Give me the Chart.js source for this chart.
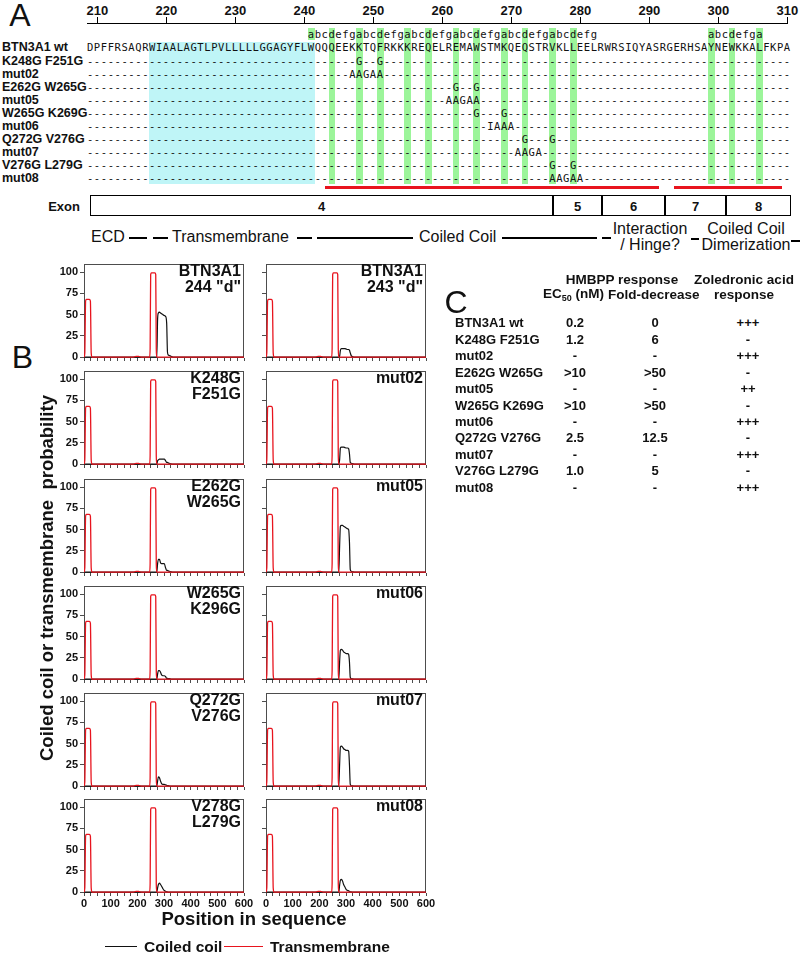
<!DOCTYPE html>
<html>
<head>
<meta charset="utf-8">
<script src="https://cdn.jsdelivr.net/npm/chart.js@4.4.1/dist/chart.umd.min.js"></script>
<style>
  body { margin: 0; background: #fff; }
  #page { position: relative; width: 800px; height: 956px; overflow: hidden; background: #fff; }
  .abs { position: absolute; white-space: pre; line-height: 1; color: #111; }
  canvas { position: absolute; }
</style>
</head>
<body>
<div id="page"></div>
<script>
// ---- Panel A: alignment ----
const residueTicks = [210, 220, 230, 240, 250, 260, 270, 280, 290, 300, 310];
const seqStart = 209;
const wtSequence = "DPFFRSAQRWIAALAGTLPVLLLLLGGAGYFLWQQQEEKKTQFRKKKREQELREMAWSTMKQEQSTRVKLLEELRWRSIQYASRGERHSAYNEWKKALFKPA";
const mutantNames = ["K248G F251G", "mut02", "E262G W265G", "mut05", "W265G K269G", "mut06", "Q272G V276G", "mut07", "V276G L279G", "mut08"];
const mutantEditStart = [248, 247, 262, 261, 265, 267, 272, 271, 276, 276];
const mutantEdits = ["G--G", "AAGAA", "G--G", "AAGAA", "G---G", "IAAA", "G---G", "AAGA", "G--G", "AAGAA"];
const heptadStart = [241, 299];
const heptadText = ["abcdefgabcdefgabcdefgabcdefgabcdefgabcdefg", "abcdefga"];
const heptadCore = [244, 248, 251, 255, 258, 262, 265, 269, 272, 276, 279, 299, 302, 306];
const tmResidues = [218, 241];
const exonNames = ["4", "5", "6", "7", "8"];

// ---- Panel B: coiled coil / transmembrane profiles ----
const xTickLabels = [0, 100, 200, 300, 400, 500, 600];
const yTickValues = [0, 25, 50, 75, 100];
const positions = [0, 3, 6, 9, 20, 24, 27, 30, 185, 195, 205, 215, 246, 248, 250, 253, 266, 269, 271,
  273, 276, 279, 283, 287, 291, 296, 301, 306, 310, 313, 316, 320, 326, 334, 345, 600];
const transmembrane = [0, 5, 66, 68, 68, 66, 5, 0, 0, 1, 1, 0, 0, 10, 97, 99, 99, 97, 10,
  0, 0, 0, 0, 0, 0, 0, 0, 0, 0, 0, 0, 0, 0, 0, 0, 0];
const coilWt244 = [0,0,0,0,0,0,0,0,0,0,0,0,0,0,0,0,0,0,0, 0, 45, 52, 53, 52, 51, 50, 49, 48, 40, 6, 2.5, 2, 1, 0, 0, 0];
const coilWt243 = [0,0,0,0,0,0,0,0,0,0,0,0,0,0,0,0,0,0,0, 0, 1, 8, 10, 10, 10, 10, 9.5, 9, 9, 8, 5, 1.5, 0.5, 0, 0, 0];
const coilK248G = [0,0,0,0,0,0,0,0,0,0,0,0,0,0,0,0,0,0,0, 0, 4, 5, 6, 6, 6, 6, 6, 4, 2, 2, 1.5, 1, 0.3, 0, 0, 0];
const coilMut02 = [0,0,0,0,0,0,0,0,0,0,0,0,0,0,0,0,0,0,0, 0, 5, 19, 20, 20, 20, 19.5, 19, 19, 18, 12, 2, 1, 0.5, 0, 0, 0];
const coilE262G = [0,0,0,0,0,0,0,0,0,0,0,0,0,0,0,0,0,0,0, 0, 10, 15, 15, 11, 10, 10, 10, 5, 2, 2, 1.5, 1, 0.5, 0, 0, 0];
const coilMut05 = [0,0,0,0,0,0,0,0,0,0,0,0,0,0,0,0,0,0,0, 0, 30, 54, 55, 55, 54, 53, 52, 51, 50, 35, 3, 1, 0.5, 0, 0, 0];
const coilW265G = [0,0,0,0,0,0,0,0,0,0,0,0,0,0,0,0,0,0,0, 0, 6, 10, 10, 8, 5, 4, 4, 3, 1, 1, 0.5, 0.5, 0.2, 0, 0, 0];
const coilMut06 = [0,0,0,0,0,0,0,0,0,0,0,0,0,0,0,0,0,0,0, 0, 20, 34, 35, 34, 32, 31, 30, 30, 29, 20, 2, 0.5, 0.3, 0, 0, 0];
const coilQ272G = [0,0,0,0,0,0,0,0,0,0,0,0,0,0,0,0,0,0,0, 0, 6, 11, 10, 6, 3, 2, 2, 1.5, 1, 0.5, 0.5, 0.3, 0, 0, 0, 0];
const coilMut07 = [0,0,0,0,0,0,0,0,0,0,0,0,0,0,0,0,0,0,0, 0, 25, 46, 47, 46, 44, 43, 42, 42, 41, 25, 2, 0.5, 0.3, 0, 0, 0];
const coilV278G = [0,0,0,0,0,0,0,0,0,0,0,0,0,0,0,0,0,0,0, 0, 5, 9, 10.5, 9, 7, 4, 2, 1, 0.5, 0.3, 0, 0, 0, 0, 0, 0];
const coilMut08 = [0,0,0,0,0,0,0,0,0,0,0,0,0,0,0,0,0,0,0, 0, 8, 14, 15, 13, 9, 6, 3, 2, 1.5, 1, 0.5, 0.3, 0, 0, 0, 0];
const panelTitles = [["BTN3A1", '244 "d"'], ["BTN3A1", '243 "d"'], ["K248G", "F251G"], ["mut02"],
  ["E262G", "W265G"], ["mut05"], ["W265G", "K296G"], ["mut06"], ["Q272G", "V276G"], ["mut07"],
  ["V278G", "L279G"], ["mut08"]];
const panelCoil = [coilWt244, coilWt243, coilK248G, coilMut02, coilE262G, coilMut05,
  coilW265G, coilMut06, coilQ272G, coilMut07, coilV278G, coilMut08];

// ---- Panel C: table ----
const tableNames = ["BTN3A1 wt", "K248G F251G", "mut02", "E262G W265G", "mut05", "W265G K269G", "mut06", "Q272G V276G", "mut07", "V276G L279G", "mut08"];
const ec50 = ["0.2", "1.2", "-", ">10", "-", ">10", "-", "2.5", "-", "1.0", "-"];
const foldDecrease = ["0", "6", "-", ">50", "-", ">50", "-", "12.5", "-", "5", "-"];
const zoledronic = ["+++", "-", "+++", "-", "++", "-", "+++", "-", "+++", "-", "+++"];

const SANS = '"Liberation Sans", Arial, Helvetica, sans-serif';
const MONO = '"DejaVu Sans Mono", monospace';
const GREEN = "#9cf59a";
const CYAN = "#bff5f7";
const RED = "#e8141e";
const page = document.getElementById("page");

function put(txt, x, y, font, align, color) {
  const d = document.createElement("div");
  d.className = "abs";
  d.textContent = txt;
  d.style.font = font;
  d.style.left = x + "px";
  d.style.top = y + "px";
  const tx = align === "center" ? "-50%" : align === "right" ? "-100%" : "0";
  d.style.transform = "translate(" + tx + ",-50%)";
  if (color) d.style.color = color;
  page.appendChild(d);
  return d;
}
function rect(x, y, w, h, bg) {
  const d = document.createElement("div");
  d.style.cssText = "position:absolute;left:" + x + "px;top:" + y + "px;width:" + w + "px;height:" + h + "px;background:" + bg;
  page.appendChild(d);
  return d;
}
// residue -> x pixel
const rx = r => 97.3 + (r - 210) * 6.9;
const MONO_SIZE = 10.5;
const monoSpacing = 6.9 - 0.60205 * MONO_SIZE;
function seqText(txt, startRes, y) {
  const d = put(txt, rx(startRes) - 3.45, y, MONO_SIZE + "px " + MONO, "left");
  d.style.letterSpacing = monoSpacing + "px";
  return d;
}

// ---------- Panel A ----------
put("A", 20, 15, "32px " + SANS, "center");
rect(87, 22.5, 701, 1.5, "#000");
residueTicks.forEach(r => {
  rect(rx(r) - 0.75, 16.5, 1.5, 7, "#000");
  put(String(r), rx(r), 10, "bold 13px " + SANS, "center");
});
rect(rx(tmResidues[0]) - 3.45, 41.5, rx(tmResidues[1]) - rx(tmResidues[0]) + 6.9, 142.5, CYAN);
heptadCore.forEach(r => rect(rx(r) - 3.4, 28, 6.8, 156, GREEN));
rect(rx(heptadStart[0]) - 3.4, 28, 6.8, 11.5, GREEN);
heptadStart.forEach((s, i) => seqText(heptadText[i], s, 33.5));

const rowY0 = 47.3;
put("BTN3A1 wt", 2, rowY0, "bold 12.5px " + SANS, "left");
seqText(wtSequence, seqStart, rowY0);
mutantNames.forEach((name, j) => {
  const y = 61 + 13.05 * j;
  put(name, 2, y, "bold 12.5px " + SANS, "left");
  let s = "";
  for (let k = 0; k < wtSequence.length; k++) {
    const r = seqStart + k;
    const e = r - mutantEditStart[j];
    const c = e >= 0 && e < mutantEdits[j].length ? mutantEdits[j][e] : "-";
    s += c;
  }
  seqText(s, seqStart, y);
});

// coiled coil underline
rect(325, 186, 334, 3, RED);
rect(674, 186, 108, 3, RED);

// exon box
put("Exon", 80, 205.5, "bold 13px " + SANS, "right");
const exonBox = rect(90, 195, 701, 21, "#fff");
exonBox.style.boxSizing = "border-box";
exonBox.style.border = "1.5px solid #000";
const exonEdges = [90, 553, 602, 665, 726, 791];
exonEdges.slice(1, 5).forEach(x => rect(x - 0.75, 195, 1.5, 21, "#000"));
exonNames.forEach((n, i) => put(n, (exonEdges[i] + exonEdges[i + 1]) / 2, 205.5, "bold 13px " + SANS, "center"));

// domain annotations
const DOM = "16px " + SANS;
put("ECD", 91, 237, DOM, "left");
rect(129, 236.5, 18, 2.2, "#000");
rect(153, 236.5, 15, 2.2, "#000");
put("Transmembrane", 172, 237, DOM, "left");
rect(297, 236.5, 15, 2.2, "#000");
rect(317, 236.5, 96, 2.2, "#000");
put("Coiled Coil", 419, 237, DOM, "left");
rect(502, 236.5, 95, 2.2, "#000");
rect(602, 237, 9, 2.2, "#000");
put("Interaction", 650, 228.5, DOM, "center");
put("/ Hinge?", 650, 244.5, DOM, "center");
rect(691, 237.5, 8, 2.2, "#000");
put("Coiled Coil", 746, 228.5, DOM, "center");
put("Dimerization", 746, 244.5, DOM, "center");
rect(791, 239.5, 9, 2.2, "#000");

// ---------- Panel B ----------
put("B", 22.5, 357, "32px " + SANS, "center");
const rowTops = [259, 366, 474, 581, 688, 794];
const colLefts = [84, 266];
const PLOT_W = 160, PLOT_H = 99, Y_AXIS_W = 40, X_AXIS_H = 22, PAD_TOP = 4, PAD_RIGHT = 16;

const framePlugin = {
  id: "frame",
  beforeDatasetsDraw(chart) {
    const { ctx, chartArea: a } = chart;
    ctx.save();
    ctx.strokeStyle = "#4d4d4d";
    ctx.lineWidth = 1;
    ctx.strokeRect(Math.round(a.left) + 0.5, Math.round(a.top) + 0.5, Math.round(a.width) - 1, Math.round(a.height) - 1);
    ctx.restore();
  }
};

panelCoil.forEach((coil, i) => {
  const col = i % 2, row = Math.floor(i / 2);
  const cv = document.createElement("canvas");
  const w = Y_AXIS_W + PLOT_W + PAD_RIGHT, h = PAD_TOP + PLOT_H + X_AXIS_H;
  cv.width = w; cv.height = h;
  cv.style.left = (colLefts[col] - Y_AXIS_W) + "px";
  cv.style.top = (rowTops[row] - PAD_TOP) + "px";
  cv.style.width = w + "px";
  cv.style.height = h + "px";
  page.appendChild(cv);
  const lastRow = row === rowTops.length - 1;
  new Chart(cv, {
    type: "line",
    data: {
      datasets: [
        {
          label: "Coiled coil",
          data: positions.map((x, k) => ({ x: x, y: coil[k] })),
          borderColor: "#111",
          borderWidth: 1.2,
          pointRadius: 0,
          cubicInterpolationMode: "monotone",
          order: 1
        },
        {
          label: "Transmembrane",
          data: positions.map((x, k) => ({ x: x, y: transmembrane[k] })),
          borderColor: RED,
          borderWidth: 1.3,
          pointRadius: 0,
          cubicInterpolationMode: "monotone",
          order: 0
        }
      ]
    },
    options: {
      responsive: false,
      animation: false,
      devicePixelRatio: 1,
      layout: { padding: { top: PAD_TOP, right: PAD_RIGHT, left: 0, bottom: 0 } },
      plugins: { legend: { display: false }, tooltip: { enabled: false } },
      scales: {
        x: {
          type: "linear",
          min: 0,
          max: 600,
          border: { display: false },
          grid: { drawOnChartArea: false, tickLength: 3, color: "#4d4d4d" },
          ticks: {
            stepSize: 25,
            autoSkip: false,
            maxRotation: 0,
            padding: 1,
            color: "#111",
            font: { family: "Liberation Sans", size: 11, weight: "bold" },
            callback: v => (lastRow && xTickLabels.includes(v)) ? String(v) : ""
          },
          afterFit: s => { s.height = X_AXIS_H; }
        },
        y: {
          min: -1,
          max: 110,
          border: { display: false },
          grid: { drawOnChartArea: false, tickLength: 4, color: "#4d4d4d" },
          afterBuildTicks: s => { s.ticks = yTickValues.map(v => ({ value: v })); },
          ticks: {
            padding: 2,
            color: "#111",
            font: { family: "Liberation Sans", size: 11, weight: "bold" },
            callback: v => col === 0 ? String(v) : ""
          },
          afterFit: s => { s.width = Y_AXIS_W; }
        }
      }
    },
    plugins: [framePlugin]
  });
  const t = panelTitles[i];
  const right = colLefts[col] + PLOT_W - 3;
  t.forEach((line, k) => put(line, right, rowTops[row] + 11.5 + 16 * k, "bold 16px " + SANS, "right"));
});

const yTitle = put("Coiled coil or transmembrane  probability", 47, 578, "bold 18.5px " + SANS, "center");
yTitle.style.transform = "translate(-50%,-50%) rotate(-90deg)";
put("Position in sequence", 254, 919, "bold 18.5px " + SANS, "center");

// legend
rect(105, 946, 32, 1.3, "#111");
put("Coiled coil", 144, 946.5, "bold 15.5px " + SANS, "left");
rect(224, 946, 39, 1.3, RED);
put("Transmembrane", 270, 946.5, "bold 15.5px " + SANS, "left");

// ---------- Panel C ----------
put("C", 456, 302, "32px " + SANS, "center");
const HF = "bold 13.5px " + SANS;
put("HMBPP response", 622, 279, HF, "center");
put("Zoledronic acid", 744, 279, HF, "center");
const ecHead = put("", 543, 293.5, HF, "left");
ecHead.innerHTML = 'EC<sub style="font-size:9px;vertical-align:-3px">50</sub> (nM)';
put("Fold-decrease", 608, 293.5, HF, "left");
put("response", 744, 293.5, HF, "center");
const TF = "bold 13px " + SANS;
tableNames.forEach((n, i) => {
  const y = 322.3 + 16.44 * i;
  put(n, 455, y, TF, "left");
  put(ec50[i], 575, y, TF, "center");
  put(foldDecrease[i], 655, y, TF, "center");
  put(zoledronic[i], 748, y, TF, "center");
});
</script>
</body>
</html>
